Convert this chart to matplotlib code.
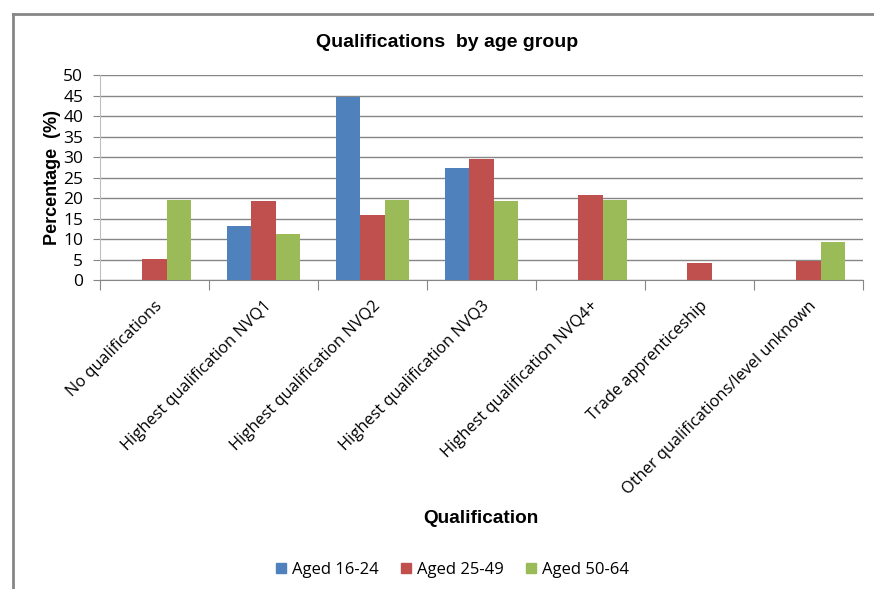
import numpy as np
import matplotlib.pyplot as plt
from matplotlib.lines import Line2D

categories = ['No qualifications', 'Highest qualification NVQ1', 'Highest qualification NVQ2',
              'Highest qualification NVQ3', 'Highest qualification NVQ4+',
              'Trade apprenticeship', 'Other qualifications/level unknown']
aged_16_24 = [0, 13.2, 44.6, 27.3, 0, 0, 0]
aged_25_49 = [5.1, 19.3, 15.9, 29.5, 20.7, 4.2, 4.7]
aged_50_64 = [19.5, 11.2, 19.5, 19.3, 19.5, 0, 9.3]
series_names = ['Aged 16-24', 'Aged 25-49', 'Aged 50-64']
colors = ['#4F81BD', '#C0504D', '#9BBB59']

plt.rcParams['font.family'] = ['Open Sans', 'DejaVu Sans']

fig = plt.figure(figsize=(8.74, 5.89), dpi=100)
ax = fig.add_axes([0.1144, 0.5246, 0.873, 0.348])

x = np.arange(len(categories))
w = 1 / 4.5
for i, vals in enumerate([aged_16_24, aged_25_49, aged_50_64]):
    ax.bar(x + (i - 1) * w, vals, width=w, color=colors[i], label=series_names[i], zorder=3)

ax.set_xlim(-0.5, len(categories) - 0.5)
ax.set_ylim(0, 50)
ax.set_yticks(np.arange(0, 51, 5))
ax.yaxis.grid(True, color='#868686', linewidth=1)
ax.set_axisbelow(True)

ax.set_xticks(np.arange(-0.5, len(categories), 1))
ax.set_xticklabels([])
ax.set_xticks(x, minor=True)
ax.set_xticklabels(categories, minor=True, rotation=45, ha='right',
                   rotation_mode='anchor', fontsize=11.8)
ax.tick_params(axis='x', which='minor', length=0, pad=13)
ax.tick_params(axis='x', which='major', length=7, color='#868686')
ax.tick_params(axis='y', length=5, color='#868686', labelsize=12.5, pad=7)

for s in ['top', 'right']:
    ax.spines[s].set_visible(False)
ax.spines['left'].set_color('#BFBFBF')
ax.spines['bottom'].set_color('#868686')

ax.set_ylabel('Percentage  (%)', fontweight='bold', fontsize=13,
              family=['Liberation Sans'], labelpad=2)
fig.text(0.512, 0.928, 'Qualifications  by age group', ha='center', va='center',
         fontweight='bold', fontsize=14, family=['Liberation Sans'])
fig.text(0.55, 0.12, 'Qualification', ha='center', va='center',
         fontweight='bold', fontsize=13.7, family=['Liberation Sans'])

handles = [Line2D([], [], marker='s', linestyle='none', markersize=7.5,
                  markerfacecolor=c, markeredgecolor=c) for c in colors]
fig.legend(handles, series_names, loc='center', bbox_to_anchor=(0.517, 0.032),
           ncol=3, frameon=False, fontsize=12, handlelength=0.7,
           handletextpad=0.3, columnspacing=1.3)

# partial frame
fig.add_artist(Line2D([13 / 874, 1], [1 - 14 / 589, 1 - 14 / 589], color='#868686', linewidth=2))
fig.add_artist(Line2D([13 / 874, 13 / 874], [0, 1 - 14 / 589], color='#868686', linewidth=2))

fig.savefig('out.png', dpi=100)
